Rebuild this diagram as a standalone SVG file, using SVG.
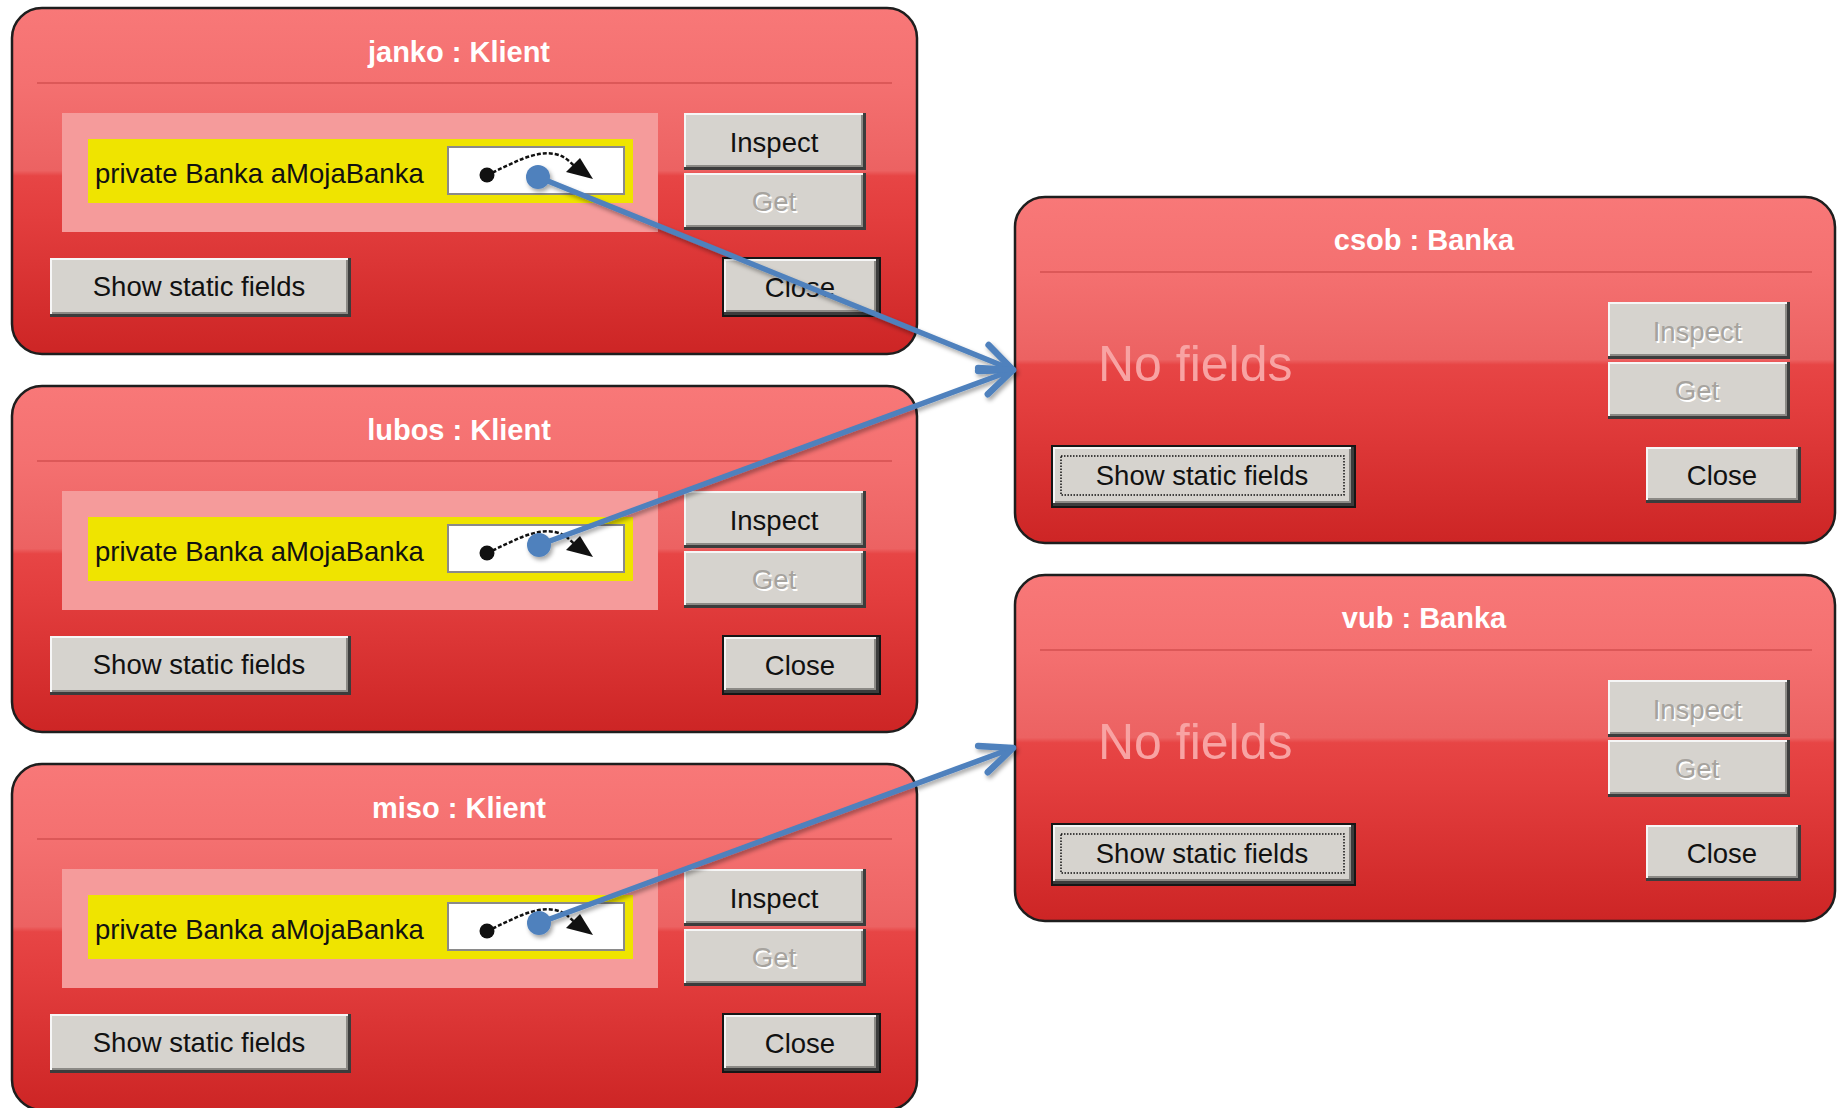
<svg xmlns="http://www.w3.org/2000/svg" width="1837" height="1108" viewBox="0 0 1837 1108">
  <defs>
    <style>
      .win { stroke: #1e1e1e; stroke-width: 2.5; }
      .sep { stroke: #dc5858; stroke-width: 2; }
      .title { font-family: "Liberation Sans", Arial, sans-serif; font-weight: bold; font-size: 29px; fill: #ffffff; text-anchor: middle; }
      .lbl { font-family: "Liberation Sans", Arial, sans-serif; font-size: 27.5px; fill: #111111; }
      .btxt { font-family: "Liberation Sans", Arial, sans-serif; font-size: 27.5px; fill: #111111; text-anchor: middle; }
      .dis { font-family: "Liberation Sans", Arial, sans-serif; font-size: 27.5px; fill: #a6a39e; text-anchor: middle; }
      .disw { font-family: "Liberation Sans", Arial, sans-serif; font-size: 27.5px; fill: #ffffff; text-anchor: middle; }
      .nof { font-family: "Liberation Sans", Arial, sans-serif; font-size: 50px; fill: #f8a3a3; }
      .panel { fill: #f59b9b; }
      .field { fill: #efe400; }
      .ref { fill: #ffffff; stroke: #8a8a8a; stroke-width: 2; }
      .conn { fill: none; stroke: #4f81bd; stroke-width: 5.5; }
      .focus { fill: none; stroke: #111111; stroke-width: 1.5; stroke-dasharray: 1.5 1.5; }
      .frame { fill: none; stroke: #161616; stroke-width: 2; }
    </style>

    <!-- glossy red window body -->
    <linearGradient id="winFill" x1="0" y1="0" x2="0" y2="1">
      <stop offset="0" stop-color="#f87878"/>
      <stop offset="0.22" stop-color="#f47070"/>
      <stop offset="0.47" stop-color="#ec6262"/>
      <stop offset="0.485" stop-color="#e74545"/>
      <stop offset="0.6" stop-color="#e33e3e"/>
      <stop offset="1" stop-color="#cd2525"/>
    </linearGradient>

    <!-- classic 3D button bevels -->
    <g id="bevA">
      <rect x="0" y="0" width="182" height="57" fill="#3c3c3c"/>
      <rect x="0" y="0" width="179" height="54" fill="#f6f6f6"/>
      <rect x="2" y="2" width="177" height="52" fill="#8c8a86"/>
      <rect x="2" y="2" width="175" height="50" fill="#d6d3ce"/>
    </g>
    <g id="bevB">
      <rect x="0" y="0" width="155" height="56" fill="#3c3c3c"/>
      <rect x="0" y="0" width="152" height="53" fill="#f6f6f6"/>
      <rect x="2" y="2" width="150" height="51" fill="#8c8a86"/>
      <rect x="2" y="2" width="148" height="49" fill="#d6d3ce"/>
    </g>
    <g id="bevC">
      <rect x="0" y="0" width="301" height="59" fill="#3c3c3c"/>
      <rect x="0" y="0" width="298" height="56" fill="#f6f6f6"/>
      <rect x="2" y="2" width="296" height="54" fill="#8c8a86"/>
      <rect x="2" y="2" width="294" height="52" fill="#d6d3ce"/>
    </g>

    <!-- reference glyph shown in an object field -->
    <g id="refGlyph">
      <path d="M487,167 C512,156 534,142 555,146 C566,148 572,156 578,162" fill="none" stroke="#111" stroke-width="2.5" stroke-dasharray="4 2"/>
      <circle cx="487" cy="167" r="7.5" fill="#111"/>
      <polygon points="593,171 566,164 580,150" fill="#111"/>
    </g>

    <marker id="chev" markerUnits="userSpaceOnUse" viewBox="-40 -20 46 40" refX="0" refY="0" markerWidth="46" markerHeight="40" orient="auto" overflow="visible">
      <path d="M-32,-14 L0,0 L-32,14" fill="none" stroke="#4f81bd" stroke-width="6.5" stroke-linecap="round" stroke-linejoin="round"/>
    </marker>

    <filter id="shadow" filterUnits="userSpaceOnUse" x="400" y="100" width="700" height="900">
      <feDropShadow dx="2" dy="3" stdDeviation="2" flood-color="#000" flood-opacity="0.35"/>
    </filter>
  </defs>

  <rect x="0" y="0" width="1837" height="1108" fill="#ffffff"/>

  <!-- Klient inspector: janko -->
  <g id="janko" transform="translate(0,8)">
    <rect class="win" x="12" y="0" width="905" height="346" rx="30" fill="url(#winFill)"/>
    <text class="title" x="459" y="54">janko : Klient</text>
    <line class="sep" x1="37" y1="75" x2="892" y2="75"/>
    <rect class="panel" x="62" y="105" width="596" height="119"/>
    <rect class="field" x="88" y="131" width="545" height="64"/>
    <rect class="ref" x="448" y="139" width="176" height="47"/>
    <use href="#refGlyph"/>
    <text class="lbl" x="95" y="175">private Banka aMojaBanka</text>
    <use href="#bevA" x="684" y="105"/>
    <text class="btxt" x="774" y="144">Inspect</text>
    <use href="#bevA" x="684" y="165"/>
    <text class="disw" x="775.5" y="204.5">Get</text>
    <text class="dis" x="774" y="203">Get</text>
    <use href="#bevC" x="50" y="250"/>
    <text class="btxt" x="199" y="288">Show static fields</text>
    <use href="#bevB" x="724" y="251"/>
    <rect class="frame" x="723" y="250" width="157" height="58"/>
    <text class="btxt" x="800" y="289">Close</text>
  </g>

  <!-- Klient inspector: lubos -->
  <g id="lubos" transform="translate(0,386)">
    <rect class="win" x="12" y="0" width="905" height="346" rx="30" fill="url(#winFill)"/>
    <text class="title" x="459" y="54">lubos : Klient</text>
    <line class="sep" x1="37" y1="75" x2="892" y2="75"/>
    <rect class="panel" x="62" y="105" width="596" height="119"/>
    <rect class="field" x="88" y="131" width="545" height="64"/>
    <rect class="ref" x="448" y="139" width="176" height="47"/>
    <use href="#refGlyph"/>
    <text class="lbl" x="95" y="175">private Banka aMojaBanka</text>
    <use href="#bevA" x="684" y="105"/>
    <text class="btxt" x="774" y="144">Inspect</text>
    <use href="#bevA" x="684" y="165"/>
    <text class="disw" x="775.5" y="204.5">Get</text>
    <text class="dis" x="774" y="203">Get</text>
    <use href="#bevC" x="50" y="250"/>
    <text class="btxt" x="199" y="288">Show static fields</text>
    <use href="#bevB" x="724" y="251"/>
    <rect class="frame" x="723" y="250" width="157" height="58"/>
    <text class="btxt" x="800" y="289">Close</text>
  </g>

  <!-- Klient inspector: miso -->
  <g id="miso" transform="translate(0,764)">
    <rect class="win" x="12" y="0" width="905" height="346" rx="30" fill="url(#winFill)"/>
    <text class="title" x="459" y="54">miso : Klient</text>
    <line class="sep" x1="37" y1="75" x2="892" y2="75"/>
    <rect class="panel" x="62" y="105" width="596" height="119"/>
    <rect class="field" x="88" y="131" width="545" height="64"/>
    <rect class="ref" x="448" y="139" width="176" height="47"/>
    <use href="#refGlyph"/>
    <text class="lbl" x="95" y="175">private Banka aMojaBanka</text>
    <use href="#bevA" x="684" y="105"/>
    <text class="btxt" x="774" y="144">Inspect</text>
    <use href="#bevA" x="684" y="165"/>
    <text class="disw" x="775.5" y="204.5">Get</text>
    <text class="dis" x="774" y="203">Get</text>
    <use href="#bevC" x="50" y="250"/>
    <text class="btxt" x="199" y="288">Show static fields</text>
    <use href="#bevB" x="724" y="251"/>
    <rect class="frame" x="723" y="250" width="157" height="58"/>
    <text class="btxt" x="800" y="289">Close</text>
  </g>

  <!-- Banka inspector: csob -->
  <g id="csob" transform="translate(0,197)">
    <rect class="win" x="1015" y="0" width="820" height="346" rx="30" fill="url(#winFill)"/>
    <text class="title" x="1424" y="53">csob : Banka</text>
    <line class="sep" x1="1040" y1="75" x2="1812" y2="75"/>
    <text class="nof" x="1098" y="184">No fields</text>
    <use href="#bevA" x="1608" y="105"/>
    <text class="disw" x="1698.5" y="145.5">Inspect</text>
    <text class="dis" x="1697" y="144">Inspect</text>
    <use href="#bevA" x="1608" y="165"/>
    <text class="disw" x="1698.5" y="204.5">Get</text>
    <text class="dis" x="1697" y="203">Get</text>
    <use href="#bevC" x="1053" y="250"/>
    <rect class="frame" x="1052" y="249" width="303" height="61"/>
    <rect class="focus" x="1061" y="259" width="283" height="39"/>
    <text class="btxt" x="1202" y="288">Show static fields</text>
    <use href="#bevB" x="1646" y="250"/>
    <text class="btxt" x="1722" y="288">Close</text>
  </g>

  <!-- Banka inspector: vub -->
  <g id="vub" transform="translate(0,575)">
    <rect class="win" x="1015" y="0" width="820" height="346" rx="30" fill="url(#winFill)"/>
    <text class="title" x="1424" y="53">vub : Banka</text>
    <line class="sep" x1="1040" y1="75" x2="1812" y2="75"/>
    <text class="nof" x="1098" y="184">No fields</text>
    <use href="#bevA" x="1608" y="105"/>
    <text class="disw" x="1698.5" y="145.5">Inspect</text>
    <text class="dis" x="1697" y="144">Inspect</text>
    <use href="#bevA" x="1608" y="165"/>
    <text class="disw" x="1698.5" y="204.5">Get</text>
    <text class="dis" x="1697" y="203">Get</text>
    <use href="#bevC" x="1053" y="250"/>
    <rect class="frame" x="1052" y="249" width="303" height="61"/>
    <rect class="focus" x="1061" y="259" width="283" height="39"/>
    <text class="btxt" x="1202" y="288">Show static fields</text>
    <use href="#bevB" x="1646" y="250"/>
    <text class="btxt" x="1722" y="288">Close</text>
  </g>

  <!-- object references -->
  <g id="connectors" filter="url(#shadow)">
    <line class="conn" x1="538" y1="177" x2="1013" y2="370" marker-end="url(#chev)"/>
    <line class="conn" x1="539" y1="545" x2="1013" y2="370" marker-end="url(#chev)"/>
    <line class="conn" x1="539" y1="923" x2="1013" y2="748" marker-end="url(#chev)"/>
    <circle cx="538" cy="177" r="12" fill="#4f81bd"/>
    <circle cx="539" cy="545" r="12" fill="#4f81bd"/>
    <circle cx="539" cy="923" r="12" fill="#4f81bd"/>
  </g>
</svg>
